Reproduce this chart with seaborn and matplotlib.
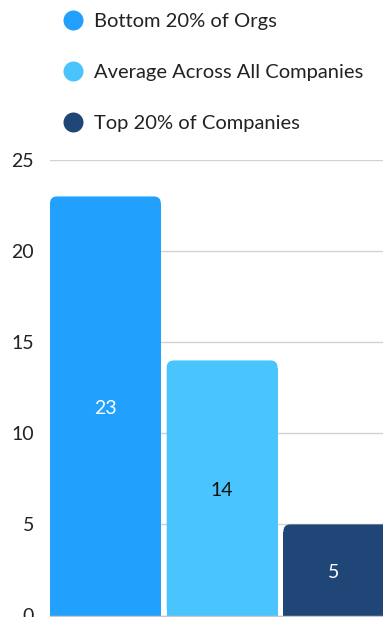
import matplotlib
matplotlib.use("Agg")
import matplotlib.pyplot as plt
import seaborn as sns
import pandas as pd
from matplotlib.patches import FancyBboxPatch, Rectangle
from matplotlib.lines import Line2D
from matplotlib.transforms import IdentityTransform

# Data
groups = ["Bottom 20% of Orgs", "Average Across All Companies", "Top 20% of Companies"]
values = [23, 14, 5]
colors = ["#22A0FD", "#4AC4FD", "#1F4677"]
label_colors = ["white", "#111111", "white"]
yticks = [0, 5, 10, 15, 20, 25]

sns.set_theme(style="white")
plt.rcParams["font.family"] = ["Lato", "DejaVu Sans"]

W, H, DPI = 383, 617, 100
fig = plt.figure(figsize=(W / DPI, H / DPI), dpi=DPI)

# Plot area in pixels
left_px, right_px, top_px, bottom_px = 50, 383, 160, 615.5
ax = fig.add_axes([left_px / W, (H - bottom_px) / H,
                   (right_px - left_px) / W, (bottom_px - top_px) / H])

df = pd.DataFrame({"group": groups, "value": values})
sns.barplot(data=df, x="group", y="value", hue="group", palette=colors,
            width=0.95, legend=False, ax=ax, saturation=1)

band_px = 116.7
ax.set_xlim(-0.475, -0.475 + (right_px - left_px) / band_px)
ax.set_ylim(0, 25)
ax.set_yticks(yticks)
ax.set_axisbelow(True)
ax.yaxis.grid(True, color="#d2d2d2", lw=1)
ax.xaxis.grid(False)
for s in ["left", "right", "top"]:
    ax.spines[s].set_visible(False)
ax.spines["bottom"].set_color("#c8c8c8")
ax.spines["bottom"].set_linewidth(1)
ax.set_xticks([])
ax.set_xlabel("")
ax.set_ylabel("")
ax.tick_params(axis="y", length=0, pad=11.5, labelsize=14, labelcolor="#222222")

# Value labels centred inside the bars
for cont, col, v in zip(ax.containers, label_colors, values):
    ax.bar_label(cont, labels=[f"{v}"], label_type="center", color=col, fontsize=14)

# Replace plain bars with bars having rounded top corners
radius = 7
for patch in list(ax.patches):
    x, y = patch.get_x(), patch.get_y()
    w, h = patch.get_width(), patch.get_height()
    (x0, y0), (x1, y1) = ax.transData.transform([(x, y), (x + w, y + h)])
    fc = patch.get_facecolor()
    patch.remove()
    top = FancyBboxPatch((x0, y0), x1 - x0, y1 - y0,
                         boxstyle=f"round,pad=0,rounding_size={radius}",
                         transform=IdentityTransform(), facecolor=fc,
                         edgecolor="none", zorder=2)
    base = Rectangle((x0, y0), x1 - x0, (y1 - y0) - radius - 1,
                     transform=IdentityTransform(), facecolor=fc,
                     edgecolor="none", zorder=2)
    ax.add_patch(top)
    ax.add_patch(base)
for t in ax.texts:
    t.set_zorder(5)
    t.xyann = (0, -2)

# Legend with round markers
handles = [Line2D([], [], marker="o", linestyle="", markersize=14.4,
                  markerfacecolor=c, markeredgewidth=0) for c in colors]
fig.legend(handles, groups, loc="upper left", bbox_to_anchor=(61 / W, 1 - 12.5 / H),
           frameon=False, fontsize=14.5, labelspacing=1.7, handletextpad=0.42,
           handlelength=1.2, borderaxespad=0, borderpad=0, labelcolor="#222222")

fig.savefig("out.png", dpi=DPI)
